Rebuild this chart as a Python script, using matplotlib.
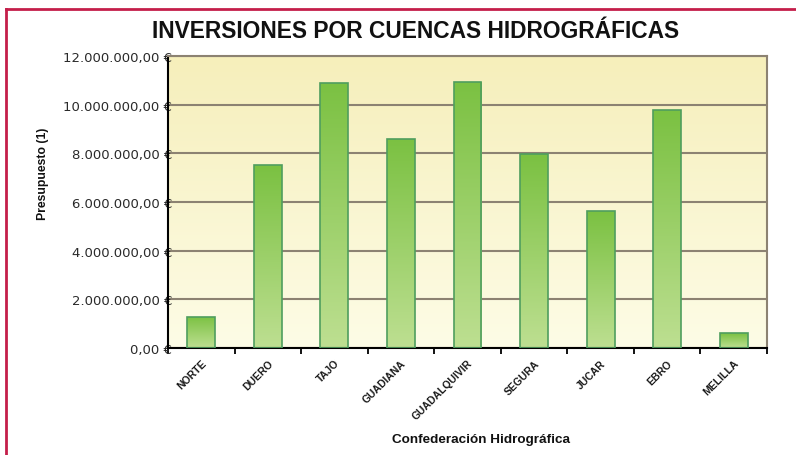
import numpy as np
import matplotlib
matplotlib.use('Agg')
import matplotlib.pyplot as plt
from matplotlib.colors import LinearSegmentedColormap
from matplotlib.lines import Line2D

cuencas = ['NORTE', 'DUERO', 'TAJO', 'GUADIANA', 'GUADALQUIVIR',
           'SEGURA', 'JUCAR', 'EBRO', 'MELILLA']
presupuesto = [1290000, 7520000, 10900000, 8600000, 10940000,
               7960000, 5620000, 9770000, 600000]
yticks = [0, 2000000, 4000000, 6000000, 8000000, 10000000, 12000000]
ytick_labels = ['0,00 €', '2.000.000,00 €', '4.000.000,00 €', '6.000.000,00 €',
                '8.000.000,00 €', '10.000.000,00 €', '12.000.000,00 €']

fig = plt.figure(figsize=(7.96, 4.56), dpi=100)
ax = fig.add_axes([168/796, 1-349/456, 599/796, 292/456])

x = np.arange(len(cuencas))

# fondo amarillo degradado
bg = LinearSegmentedColormap.from_list('bg', ['#fdfce6', '#f6efbb'])
ax.imshow(np.linspace(0, 1, 100).reshape(-1, 1), cmap=bg, aspect='auto',
          extent=[-0.5, len(cuencas) - 0.5, 0, 12000000], origin='lower', zorder=0)

ax.set_yticks(yticks)
ax.grid(axis='y', color='#8c8272', linewidth=1.5, zorder=1)
ax.set_axisbelow(True)

green = LinearSegmentedColormap.from_list('gr', ['#bddf91', '#7bc142'])
bars = ax.bar(x, presupuesto, width=0.42, facecolor='none',
              edgecolor='#4f9e5e', linewidth=1.2, zorder=3)
for b in bars:
    x0, y0 = b.get_x(), b.get_y()
    im = ax.imshow(np.linspace(0, 1, 100).reshape(-1, 1), cmap=green, aspect='auto',
                   extent=[x0, x0 + b.get_width(), y0, y0 + b.get_height()],
                   origin='lower', zorder=2)
    im.set_clip_path(b)
ax.set_xlim(-0.5, len(cuencas) - 0.5)
ax.set_ylim(0, 12000000)

ax.set_yticklabels(ytick_labels, fontsize=9.5, color='#2a2a2a', family='DejaVu Sans')
ax.tick_params(axis='y', length=0, pad=-3)

ax.set_xticks(x)
ax.set_xticklabels(cuencas, rotation=45, ha='right', va='top', rotation_mode='anchor',
                   fontsize=7.5, fontweight='bold',
                   family='Liberation Sans', color='#1a1a1a')
ax.tick_params(axis='x', length=0, pad=7)
ax.set_xticks(np.arange(-0.5, len(cuencas)), minor=True)
ax.tick_params(axis='x', which='minor', length=4, width=1.3, color='black', direction='out')

for s in ['left', 'bottom']:
    ax.spines[s].set_color('black')
    ax.spines[s].set_linewidth(1.5)
for s in ['top', 'right']:
    ax.spines[s].set_color('#8c8272')
    ax.spines[s].set_linewidth(1.5)

fig.text(416/796, 1-31/456, 'INVERSIONES POR CUENCAS HIDROGRÁFICAS', ha='center', va='center',
         fontsize=16.4, fontweight='bold', family='Liberation Sans', color='#111111')
fig.text(43/796, 1-174/456, 'Presupuesto (1)', rotation=90, ha='center', va='center',
         fontsize=8.8, fontweight='bold', family='Liberation Sans', color='#111111')
fig.text(481/796, 1-440/456, 'Confederación Hidrográfica', ha='center', va='center',
         fontsize=9.7, fontweight='bold', family='Liberation Sans', color='#111111')

# marco
fig.add_artist(Line2D([6/796, 6/796], [0, 1-10/456], transform=fig.transFigure,
                      color='#c41e4a', linewidth=2))
fig.add_artist(Line2D([6/796, 1], [1-10/456, 1-10/456], transform=fig.transFigure,
                      color='#c41e4a', linewidth=2))

fig.savefig('out.png', dpi=100)
